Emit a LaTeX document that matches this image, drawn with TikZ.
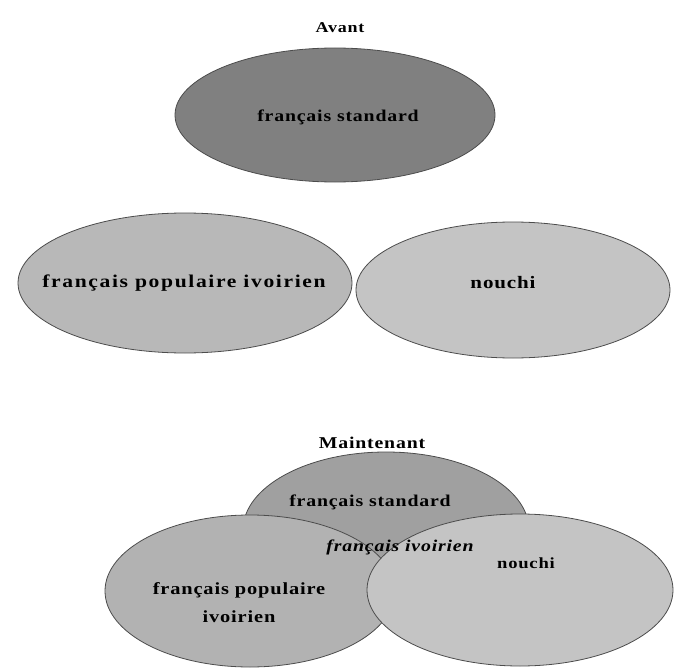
\documentclass[tikz,border=0pt]{standalone}
\usepackage{fontspec}
\setmainfont{Liberation Serif}[FakeStretch=1.2, LetterSpace=5]
\usetikzlibrary{shapes.geometric, positioning}
\definecolor{standardGray}{RGB}{128,128,128}
\definecolor{populaireGray}{RGB}{184,184,184}
\definecolor{nouchiGray}{RGB}{196,196,196}
\definecolor{standardLight}{RGB}{160,160,160}
\definecolor{populaireLight}{RGB}{178,178,178}

\begin{document}
\begin{tikzpicture}[
    x=1pt, y=-1pt,
    variety/.style={ellipse, draw=black!70, line width=0.8pt, inner sep=0pt},
    title/.style={font=\bfseries\fontsize{15}{18}\selectfont},
    tag/.style={font=\bfseries\fontsize{16.5}{28}\selectfont, align=center}
]
\useasboundingbox (0,0) rectangle (686,669);

% Avant
\node[title] (avant) at (340,28) {Avant};
\node[variety, fill=standardGray, minimum width=320pt, minimum height=134pt] (standard) at (335,115) {};
\node[tag] (standardText) at (338,117) {français standard};
\node[variety, fill=populaireGray, minimum width=334pt, minimum height=140pt] (populaire) at (185,283) {};
\node[tag, font=\bfseries\fontsize{18}{22}\selectfont\addfontfeature{LetterSpace=9}] (populaireText) at (184,283) {français populaire ivoirien};
\node[variety, fill=nouchiGray, minimum width=314pt, minimum height=136pt] (nouchi) at (513,290) {};
\node[tag, font=\bfseries\fontsize{17.5}{21}\selectfont] (nouchiText) at (503,283) {nouchi};

% Maintenant
\node[title, font=\bfseries\fontsize{16.5}{20}\selectfont] (maintenant) at (372,443) {Maintenant};
\node[variety, fill=standardLight, minimum width=286pt, minimum height=156pt] (standardNow) at (386,530) {};
\node[tag] (standardNowText) at (370,502) {français standard};
\node[variety, fill=populaireLight, minimum width=290pt, minimum height=152pt] (populaireNow) at (250,591) {};
\node[tag, font=\bfseries\fontsize{17}{28}\selectfont] (populaireNowText) at (239,603) {français populaire\\ivoirien};
\node[variety, fill=nouchiGray, minimum width=306pt, minimum height=152pt] (nouchiNow) at (520,590) {};
\node[tag, font=\bfseries\fontsize{15.5}{19}\selectfont] (nouchiNowText) at (526,563) {nouchi};
\node[tag, font=\bfseries\itshape\fontsize{16.5}{20}\selectfont] (ivoirien) at (400,547) {français ivoirien};
\end{tikzpicture}
\end{document}
